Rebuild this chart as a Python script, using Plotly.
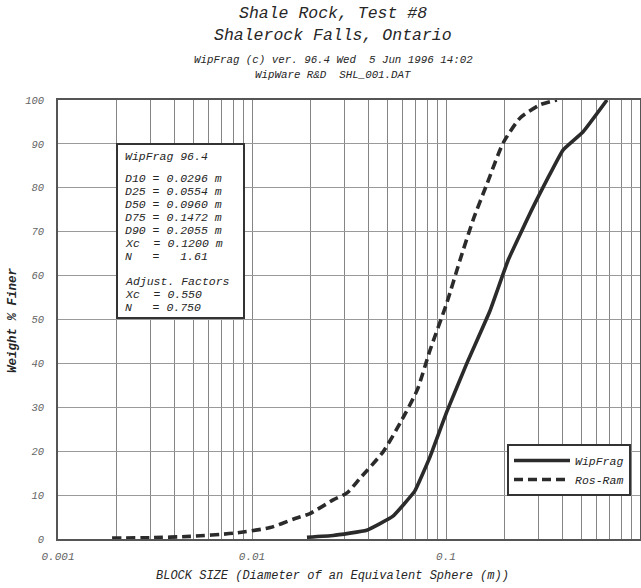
import plotly.graph_objects as go

# ---------------- data ----------------
wip_size = [0.0192, 0.0262, 0.039, 0.0533, 0.069, 0.0827, 0.101, 0.128, 0.1686,
            0.209, 0.281, 0.401, 0.508, 0.676]
wip_pass = [0.4, 0.8, 2.0, 5.2, 10.9, 18.7, 29.0, 40.0, 52.0,
            63.5, 75.6, 88.6, 92.7, 100.0]

ros_size = [0.0019, 0.003, 0.0048, 0.008, 0.0124, 0.0163, 0.0199, 0.0262, 0.0309,
            0.036, 0.0473, 0.058, 0.071, 0.0827, 0.101, 0.118, 0.138, 0.163,
            0.197, 0.241, 0.305, 0.373]
ros_pass = [0.2, 0.3, 0.6, 1.3, 2.6, 4.5, 5.8, 8.9, 10.5,
            13.8, 19.8, 26.4, 33.9, 43.0, 53.8, 63.5, 72.7, 81.0,
            90.2, 95.9, 98.9, 100.0]

x_tick_vals = [0.001, 0.01, 0.1, 1]
x_tick_text = ["0.001", "0.01", "0.1", "1"]
y_tick_vals = [0, 10, 20, 30, 40, 50, 60, 70, 80, 90, 100]
y_tick_text = ["0", "10", "20", "30", "40", "50", "60", "70", "80", "90", "100"]

title_lines = ["Shale Rock, Test #8", "Shalerock Falls, Ontario"]
sub_lines = ["WipFrag (c) ver. 96.4 Wed  5 Jun 1996 14:02", "WipWare R&D  SHL_001.DAT"]

box_lines = ["WipFrag 96.4", "",
             "D10 = 0.0296 m", "D25 = 0.0554 m", "D50 = 0.0960 m",
             "D75 = 0.1472 m", "D90 = 0.2055 m", "Xc  = 0.1200 m",
             "N   =   1.61", "",
             "Adjust. Factors", "Xc  = 0.550", "N   = 0.750"]

x_title = "BLOCK SIZE (Diameter of an Equivalent Sphere (m))"
y_title = "Weight % Finer"

# ---------------- layout helpers ----------------
W, H = 641, 588
L, R, T, B = 58, 1, 100, 49
PW, PH = W - L - R, H - T - B
FONT = "Liberation Mono, Courier New, monospace"
INK = "#262626"


def pxx(x):
    return (x - L) / PW


def pxy(y):
    return (H - B - y) / PH


def nb(s):
    return s.replace(" ", "\u00a0")


minor_vals = [m * 10 ** e for e in (-3, -2, -1) for m in range(2, 10)]

fig = go.Figure()
fig.add_trace(go.Scatter(x=wip_size, y=wip_pass, mode="lines", name="WipFrag",
                         line=dict(color="#2b2b2b", width=3.6), line_shape="spline",
                         line_smoothing=0.3))
fig.add_trace(go.Scatter(x=ros_size, y=ros_pass, mode="lines", name="Ros-Ram",
                         line=dict(color="#2b2b2b", width=3.6, dash="9px,5px"),
                         line_shape="spline", line_smoothing=0.6))

annotations = []
# titles
for txt, y, size in [(title_lines[0], 14, 16.5), (title_lines[1], 35, 16.5),
                     (sub_lines[0], 60, 10.8), (sub_lines[1], 75, 10.8)]:
    annotations.append(dict(text="<i>" + nb(txt) + "</i>", xref="paper", yref="paper",
                            x=pxx(333), y=pxy(y), xanchor="center", yanchor="middle",
                            showarrow=False, font=dict(family=FONT, size=size, color=INK)))
# info box text
box_y = [156, 167, 178, 191, 204, 217, 230, 243, 256, 268, 281, 294, 307]
for txt, y in zip(box_lines, box_y):
    if not txt:
        continue
    annotations.append(dict(text="<i>" + nb(txt) + "</i>", xref="paper", yref="paper",
                            x=pxx(123), y=pxy(y), xanchor="left", yanchor="middle",
                            showarrow=False, font=dict(family=FONT, size=11.5, color=INK)))
# axis titles
annotations.append(dict(text="<i>" + nb(x_title) + "</i>", xref="paper", yref="paper",
                        x=pxx(332), y=pxy(576), xanchor="center", yanchor="middle",
                        showarrow=False, font=dict(family=FONT, size=12, color=INK)))
annotations.append(dict(text="<b><i>" + nb(y_title) + "</i></b>", xref="paper", yref="paper",
                        x=pxx(13), y=pxy(320), xanchor="center", yanchor="middle",
                        textangle=-90, showarrow=False,
                        font=dict(family=FONT, size=12.5, color=INK)))

shapes = [dict(type="rect", xref="paper", yref="paper",
               x0=pxx(117), x1=pxx(244), y0=pxy(318), y1=pxy(144),
               line=dict(color="#333333", width=2), fillcolor="white", layer="above")]

fig.update_layout(
    width=W, height=H,
    margin=dict(l=L, r=R, t=T, b=B, autoexpand=False),
    paper_bgcolor="white", plot_bgcolor="white",
    font=dict(family=FONT, color=INK),
    annotations=annotations, shapes=shapes,
    showlegend=True,
    legend=dict(x=pxx(631), y=pxy(496), xanchor="right", yanchor="bottom",
                bgcolor="white", bordercolor="#333333", borderwidth=2,
                font=dict(family=FONT, size=11.5, color=INK, style="italic"),
                itemwidth=56, tracegroupgap=0),
)
fig.update_xaxes(type="log", range=[-3, 0], tickvals=x_tick_vals, ticktext=x_tick_text,
                 ticks="", ticklabelstandoff=6, automargin=False,
                 tickfont=dict(family=FONT, size=11, color="#666666", style="italic"),
                 showgrid=True, gridcolor="#858585", gridwidth=1,
                 minor=dict(tickvals=minor_vals, showgrid=True, gridcolor="#858585",
                            gridwidth=1, ticks=""),
                 showline=True, linecolor="#555555", linewidth=1.5, mirror=True,
                 zeroline=False)
fig.update_yaxes(range=[0, 100], tickvals=y_tick_vals, ticktext=y_tick_text,
                 ticks="", ticklabelstandoff=10, automargin=False,
                 tickfont=dict(family=FONT, size=10.5, color="#666666", style="italic"),
                 showgrid=True, gridcolor="#9a9a9a", gridwidth=1,
                 showline=True, linecolor="#555555", linewidth=1.5, mirror=True,
                 zeroline=False)

fig.write_html("out.html", config={"displayModeBar": False},
               post_script="document.body.style.margin='0';")
